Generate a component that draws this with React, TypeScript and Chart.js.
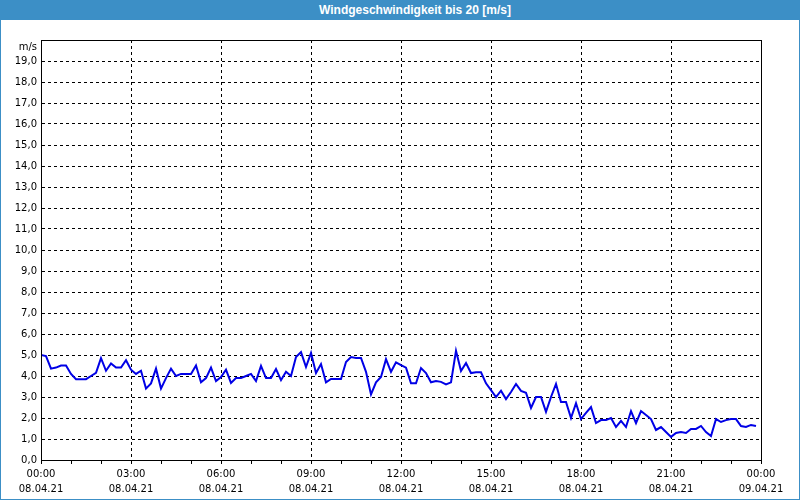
import React, { useEffect, useRef } from "react";
import { Chart, registerables } from "chart.js";

Chart.register(...registerables);

const TITLE = "Windgeschwindigkeit bis 20 [m/s]";
const UNIT = "m/s";
const DATE_START = "08.04.21";
const DATE_END = "09.04.21";

// minutes since 00:00, every 10 min
const MINUTES: number[] = Array.from({ length: 144 }, (_, i) => i * 10);

const SPEED: number[] = [
  5.0, 4.95, 4.35, 4.4, 4.5, 4.5, 4.1, 3.85, 3.85, 3.85, 4.0, 4.15,
  4.85, 4.25, 4.6, 4.4, 4.4, 4.75, 4.3, 4.1, 4.25, 3.4, 3.65, 4.35,
  3.4, 3.9, 4.35, 4.0, 4.1, 4.1, 4.1, 4.5, 3.7, 3.9, 4.4, 3.76,
  3.95, 4.3, 3.67, 3.9, 3.9, 4.0, 4.1, 3.76, 4.48, 3.9, 3.9, 4.33,
  3.8, 4.2, 4.0, 4.9, 5.14, 4.43, 5.1, 4.14, 4.57, 3.7, 3.86, 3.86,
  3.86, 4.67, 4.9, 4.86, 4.86, 4.2, 3.12, 3.7, 3.95, 4.8, 4.2, 4.65,
  4.52, 4.4, 3.65, 3.65, 4.38, 4.14, 3.7, 3.76, 3.72, 3.6, 3.7, 5.2,
  4.24, 4.62, 4.14, 4.18, 4.18, 3.65, 3.33, 3.0, 3.3, 2.9, 3.24, 3.62,
  3.29, 3.2, 2.48, 3.0, 3.0, 2.29, 3.0, 3.62, 2.76, 2.76, 2.0, 2.7,
  1.95, 2.24, 2.52, 1.76, 1.9, 1.9, 2.0, 1.57, 1.86, 1.57, 2.33, 1.76,
  2.33, 2.14, 1.95, 1.43, 1.57, 1.33, 1.1, 1.29, 1.33, 1.29, 1.48, 1.48,
  1.62, 1.33, 1.14, 1.95, 1.81, 1.9, 1.95, 1.95, 1.62, 1.57, 1.67, 1.62,
];

const X_MIN = 0;
const X_MAX = 1440;
const Y_MIN = 0;
const Y_MAX = 20;

const FONT = "'DejaVu Sans', sans-serif";

function timeLabel(v: number): string {
  const h = Math.floor((v % 1440) / 60);
  return String(h).padStart(2, "0") + ":00";
}

export default function App() {
  const ref = useRef<HTMLCanvasElement | null>(null);

  useEffect(() => {
    document.body.style.margin = "0";
    const canvas = ref.current;
    if (!canvas) return;

    const framePlugin = {
      id: "frame",
      afterDraw(chart: any) {
        const { ctx, chartArea } = chart;
        const ys = chart.scales.y;
        ctx.save();
        ctx.strokeStyle = "#000";
        ctx.lineWidth = 1;
        ctx.setLineDash([]);
        ctx.strokeRect(
          Math.round(chartArea.left) + 0.5,
          Math.round(chartArea.top) + 0.5,
          Math.round(chartArea.right - chartArea.left),
          Math.round(chartArea.bottom - chartArea.top)
        );
        ctx.fillStyle = "#000";
        ctx.font = "10px " + FONT;
        ctx.textAlign = "right";
        ctx.textBaseline = "middle";
        ctx.fillText(UNIT, chartArea.left - 4, ys.getPixelForValue(Y_MAX) + 7);
        ctx.restore();
      },
    };

    const chart = new Chart(canvas, {
      type: "line",
      data: {
        datasets: [
          {
            data: MINUTES.map((m, i) => ({ x: m, y: SPEED[i] })),
            borderColor: "#0000e6",
            borderWidth: 2,
            pointRadius: 0,
            tension: 0,
            fill: false,
          },
        ],
      },
      options: {
        animation: false,
        responsive: false,
        devicePixelRatio: 1,
        layout: { padding: { top: 40, right: 39, left: 0, bottom: 0 } },
        plugins: {
          legend: { display: false },
          tooltip: { enabled: false },
          title: { display: false },
        },
        scales: {
          x: {
            type: "linear",
            min: X_MIN,
            max: X_MAX,
            afterFit(scale: any) {
              scale.height = 40;
            },
            ticks: {
              stepSize: 60,
              autoSkip: false,
              maxRotation: 0,
              minRotation: 0,
              padding: 3,
              color: "#000",
              font: { family: FONT, size: 10, lineHeight: 1.5 },
              callback(value: any) {
                const v = Number(value);
                if (v % 180 !== 0) return "";
                return [timeLabel(v), v >= 1440 ? DATE_END : DATE_START];
              },
            },
            grid: {
              drawTicks: true,
              tickLength: 4,
              tickColor: "#000",
              color: (ctx: any) => {
                const v = ctx.tick ? ctx.tick.value : 0;
                return v % 180 === 0 && v > X_MIN && v < X_MAX ? "#000" : "rgba(0,0,0,0)";
              },
              lineWidth: 1,
            },
            border: { display: true, color: "#000", dash: [3, 3] },
          },
          y: {
            type: "linear",
            min: Y_MIN,
            max: Y_MAX,
            afterFit(scale: any) {
              scale.width = 41;
            },
            ticks: {
              stepSize: 1,
              padding: 4,
              color: "#000",
              font: { family: FONT, size: 10 },
              callback(value: any) {
                const v = Number(value);
                if (v >= Y_MAX) return "";
                return v.toFixed(1).replace(".", ",");
              },
            },
            grid: {
              drawTicks: false,
              color: (ctx: any) => {
                const v = ctx.tick ? ctx.tick.value : 0;
                return v > Y_MIN && v < Y_MAX ? "#000" : "rgba(0,0,0,0)";
              },
              lineWidth: 1,
            },
            border: { display: true, color: "#000", dash: [3, 3] },
          },
        },
      },
      plugins: [framePlugin],
    });

    return () => chart.destroy();
  }, []);

  return (
    <div style={{ position: "relative", width: 800, height: 500, background: "#fff", overflow: "hidden" }}>
      <canvas ref={ref} width={800} height={500} style={{ position: "absolute", left: 0, top: 0 }} />
      <div
        style={{
          position: "absolute",
          left: 0,
          top: 0,
          width: 800,
          height: 20,
          background: "#3c8fc6",
          color: "#fff",
          fontFamily: "'Liberation Sans', Arial, sans-serif",
          fontWeight: "bold",
          fontSize: 12,
          lineHeight: "20px",
          textAlign: "center",
          paddingLeft: 30,
          boxSizing: "border-box",
        }}
      >
        {TITLE}
      </div>
      <div
        style={{
          position: "absolute",
          left: 0,
          top: 0,
          width: 800,
          height: 500,
          border: "1px solid #3c8fc6",
          boxSizing: "border-box",
          pointerEvents: "none",
        }}
      />
    </div>
  );
}
